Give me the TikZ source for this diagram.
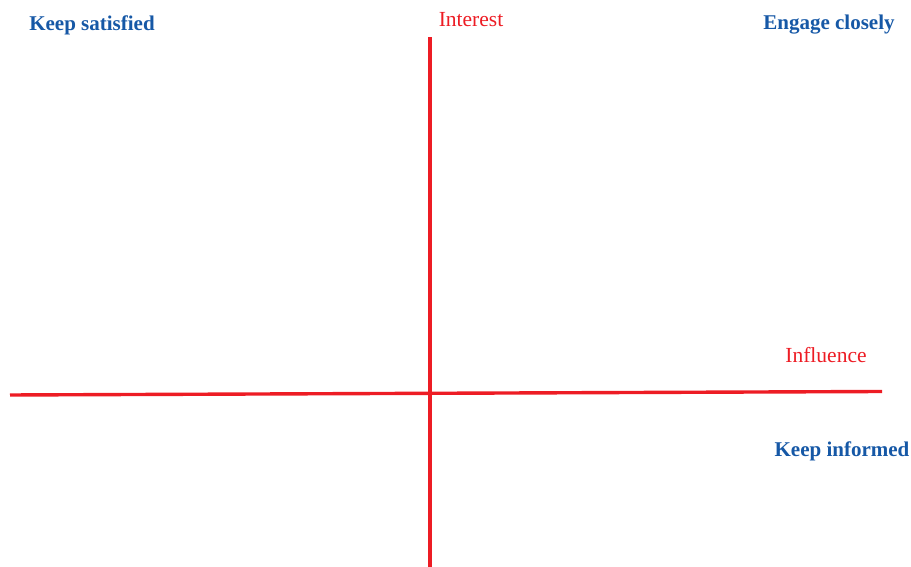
\documentclass[tikz,border=0pt]{standalone}
\usepackage{fontspec}
\setmainfont{Liberation Serif}
\definecolor{axisred}{RGB}{237,28,36}
\definecolor{quadblue}{RGB}{22,88,166}
\begin{document}
\begin{tikzpicture}[x=1pt,y=1pt,
  axisline/.style={draw=axisred, line width=3.4pt},
  axislabel/.style={text=axisred, font=\fontsize{21.5}{24}\selectfont, inner sep=0pt},
  quadlabel/.style={text=quadblue, font=\bfseries\fontsize{21}{24}\selectfont, inner sep=0pt}]
  % 1 px = 1 pt, y geht nach oben
  \def\W{911}
  \def\H{567}
  \useasboundingbox (0,0) rectangle (\W,\H);

  % ---- Achsen ----
  \coordinate (ytop) at (430,530);
  \coordinate (ybot) at (430,0);
  \coordinate (xleft) at (10,172);
  \coordinate (xright) at (882,175.5);
  \draw[axisline] (ybot) -- (ytop);
  \draw[axisline] (xleft) -- (xright);

  % Achsenbeschriftung
  \node[axislabel] (interest) at (471,547) {Interest};
  \node[axislabel] (influence) at (826,212) {Influence};

  % ---- Quadranten ----
  \node[quadlabel] (satisfied) at (92,542) {Keep satisfied};
  \node[quadlabel] (engage) at (829,542) {Engage closely};
  \node[quadlabel] (informed) at (842,116) {Keep informed};
\end{tikzpicture}
\end{document}
